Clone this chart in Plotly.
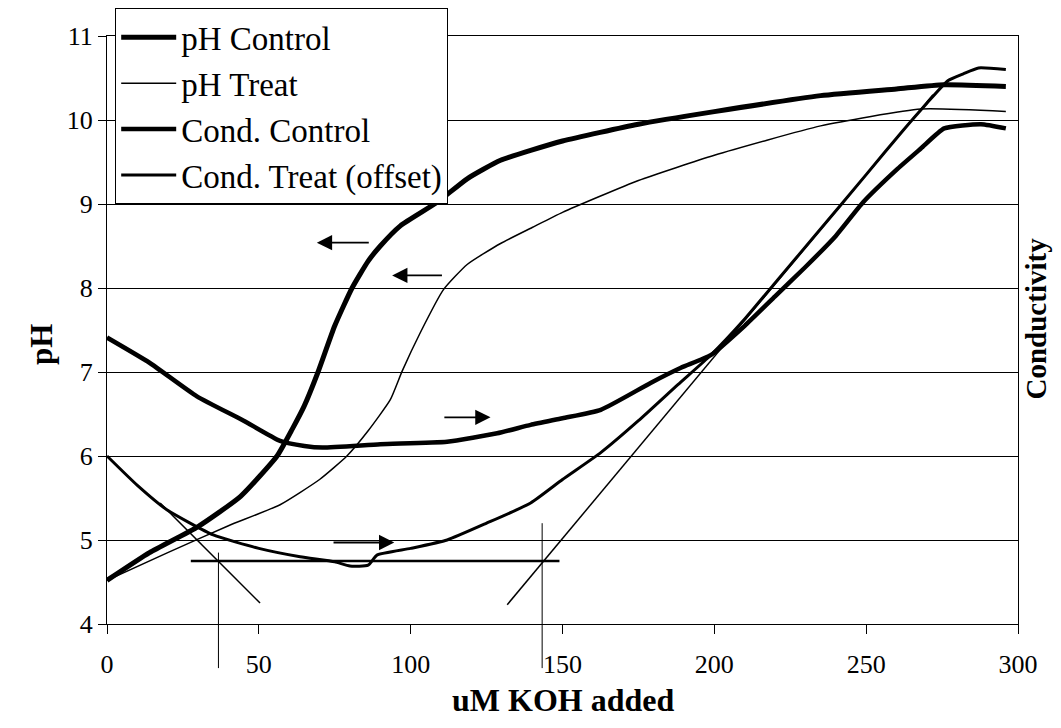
import plotly.graph_objects as go

# ---------------- data ----------------
ph_control_x = [0, 14, 30, 44, 56, 61, 65, 69.5, 75, 80.7, 86, 90, 96.6, 108.7, 118.6, 129.6, 150, 175, 200, 235, 260, 275.6, 296]
ph_control_y = [4.52, 4.85, 5.16, 5.52, 6.0, 6.32, 6.6, 7.0, 7.55, 8.0, 8.32, 8.5, 8.74, 9.02, 9.3, 9.52, 9.75, 9.95, 10.1, 10.29, 10.37, 10.42, 10.4]

ph_treat_x = [0, 20, 40, 57, 70, 79, 86, 93.3, 97.2, 103.2, 110.8, 118.6, 129.6, 140, 150, 175, 200, 235, 268, 296]
ph_treat_y = [4.52, 4.85, 5.17, 5.42, 5.72, 6.0, 6.3, 6.67, 7.01, 7.47, 7.98, 8.28, 8.53, 8.72, 8.9, 9.28, 9.58, 9.93, 10.13, 10.1]

cond_control_x = [0, 14, 29.6, 45, 57, 65, 71, 90, 112, 128.5, 139.5, 150, 162.6, 179, 189, 198.8, 210, 220, 230, 240, 249, 260.4, 268, 275.7, 287.8, 296]
cond_control_y = [7.41, 7.11, 6.71, 6.42, 6.18, 6.12, 6.1, 6.14, 6.17, 6.27, 6.37, 6.45, 6.55, 6.87, 7.05, 7.2, 7.55, 7.9, 8.25, 8.62, 9.02, 9.42, 9.66, 9.9, 9.95, 9.9]

cond_treat_x = [0, 10, 19.7, 35, 50, 63.6, 75, 80, 86, 88.9, 100, 112, 125, 139.5, 150, 162.6, 175, 188, 198.8, 210, 220, 234, 250, 262, 270, 277, 282, 287, 296]
cond_treat_y = [6.0, 5.65, 5.36, 5.06, 4.9, 4.8, 4.74, 4.69, 4.7, 4.82, 4.9, 5.0, 5.2, 5.44, 5.72, 6.04, 6.42, 6.85, 7.2, 7.63, 8.06, 8.66, 9.35, 9.87, 10.2, 10.47, 10.55, 10.62, 10.6]

# tangent / construction lines (x0, x1), (y0, y1)
tan_desc_x = [17.5, 50.4]
tan_desc_y = [5.44, 4.25]
tan_flat_x = [27.6, 149]
tan_flat_y = [4.75, 4.75]
tan_asc_x = [131.8, 272]
tan_asc_y = [4.23, 10.30]

# vertical marker lines: x position and top (data y)
vline_x = [36.7, 143.3]
vline_top = [4.85, 5.2]

# arrows: tail x, head x, y
arrow_tail_x = [86.7, 110.8, 110.6, 74.1]
arrow_head_x = [69.1, 93.9, 126.3, 94.6]
arrow_y = [8.54, 8.15, 6.46, 4.97]

x_ticks = [0, 50, 100, 150, 200, 250, 300]
y_ticks = [4, 5, 6, 7, 8, 9, 10, 11]

FONT = "Liberation Serif"
Y_MIN, Y_MAX = 4, 11

fig = go.Figure()

series = [
    ("pH Control", ph_control_x, ph_control_y, 5),
    ("pH Treat", ph_treat_x, ph_treat_y, 1.5),
    ("Cond. Control", cond_control_x, cond_control_y, 4.5),
    ("Cond. Treat (offset)", cond_treat_x, cond_treat_y, 3),
]
for i, (name, xs, ys, w) in enumerate(series):
    fig.add_trace(go.Scatter(
        x=xs, y=ys, mode="lines", name=name, legendgroup=f"g{i}",
        line=dict(color="black", width=w, shape="spline", smoothing=0.5),
    ))

for xs, ys, w in [(tan_desc_x, tan_desc_y, 1.5), (tan_flat_x, tan_flat_y, 2.5), (tan_asc_x, tan_asc_y, 1.5)]:
    fig.add_trace(go.Scatter(x=xs, y=ys, mode="lines", showlegend=False,
                             line=dict(color="black", width=w), hoverinfo="skip"))

bottom_paper = -0.075
for vx, vt in zip(vline_x, vline_top):
    fig.add_shape(type="line", xref="x", yref="paper",
                  x0=vx, x1=vx, y0=bottom_paper, y1=(vt - Y_MIN) / (Y_MAX - Y_MIN),
                  line=dict(color="black", width=1))

for tx, hx, ay in zip(arrow_tail_x, arrow_head_x, arrow_y):
    fig.add_annotation(x=hx, y=ay, ax=tx, ay=ay, xref="x", yref="y", axref="x", ayref="y",
                       text="", showarrow=True, arrowhead=2, arrowsize=1.7, arrowwidth=1.8,
                       arrowcolor="black")

fig.add_annotation(text="<b>pH</b>", xref="paper", yref="paper", x=-0.072, y=0.475,
                   xanchor="center", yanchor="middle",
                   textangle=-90, showarrow=False, font=dict(family=FONT, size=31, color="black"))
fig.add_annotation(text="<b>Conductivity</b>", xref="paper", yref="paper", x=1.02, y=0.52,
                   xanchor="center", yanchor="middle",
                   textangle=-90, showarrow=False, font=dict(family=FONT, size=29, color="black"))
fig.add_annotation(text="<b>uM KOH added</b>", xref="paper", yref="paper", x=0.5, y=-0.129,
                   xanchor="center", yanchor="middle", showarrow=False,
                   font=dict(family=FONT, size=32, color="black"))

# the page body adds an 8px margin, so the figure is sized to fit the window
fig.update_layout(
    width=1053, height=720,
    margin=dict(l=99, r=43, t=28, b=104, autoexpand=False),
    paper_bgcolor="white", plot_bgcolor="white",
    font=dict(family=FONT, size=26, color="black"),
    showlegend=True,
    legend=dict(x=0.009, y=1.047, xanchor="left", yanchor="top",
                bgcolor="white", bordercolor="black", borderwidth=1,
                font=dict(family=FONT, size=33, color="black"),
                tracegroupgap=0, itemwidth=55),
    xaxis=dict(range=[0, 300], tickvals=x_ticks, ticks="outside", ticklen=9, tickwidth=1,
               tickcolor="black", showline=True, linecolor="black", linewidth=1, mirror=True,
               showgrid=False, zeroline=False, tickfont=dict(size=26), ticklabelstandoff=8),
    yaxis=dict(range=[Y_MIN, Y_MAX], tickvals=y_ticks, ticks="outside", ticklen=8, tickwidth=1,
               tickcolor="black", showline=True, linecolor="black", linewidth=1, mirror=True,
               showgrid=True, gridcolor="black", gridwidth=1, zeroline=False,
               tickfont=dict(size=26)),
)

fig.write_html("out.html")
